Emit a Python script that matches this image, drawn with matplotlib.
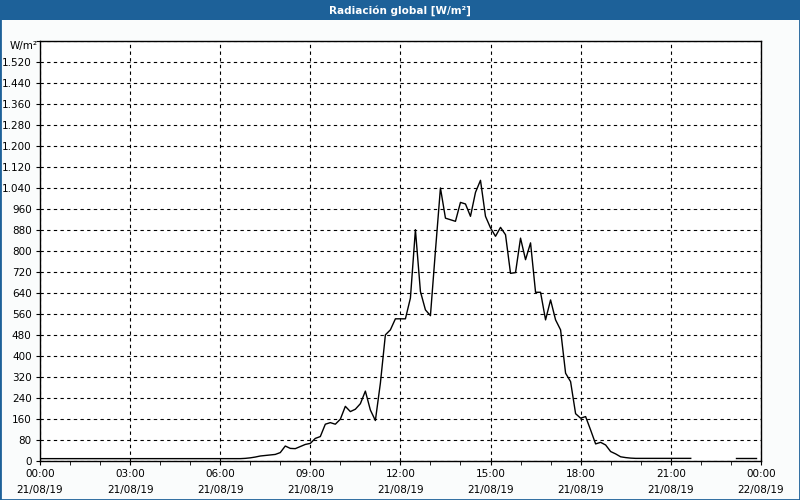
import pandas as pd
import matplotlib.pyplot as plt
import matplotlib.dates as mdates
from matplotlib.ticker import MultipleLocator, FuncFormatter
from matplotlib.patches import Rectangle

# 10-minute readings, W/m2
night_am = [9, 9, 9, 9, 9, 9, 9, 9, 9, 9, 9, 9, 9, 9,
            9, 9, 9, 9, 9, 9, 9, 9, 9, 9, 9, 9, 9, 9,
            9, 9, 9, 9, 9, 9, 9, 9, 9, 9, 9, 9, 9]          # 00:00 - 06:40
day = [10, 12, 15, 19, 21, 23, 25, 32, 57, 48, 47, 55, 63, 67,   # 06:50 - 09:00
       86, 93, 140, 146, 140, 159, 208, 188, 197, 218, 266,     # 09:10 - 10:50
       194, 154, 296, 480, 499, 541, 541, 541, 620, 880, 645,   # 11:00 - 12:40
       575, 553, 800, 1039, 924, 918, 912, 984, 978, 931, 1022, # 12:50 - 14:30
       1068, 931, 887, 855, 889, 861, 714, 717, 848, 766, 830,  # 14:40 - 16:20
       642, 642, 537, 613, 537, 499, 334, 302, 180, 163, 169,   # 16:30 - 18:10
       118, 65, 71, 61, 36, 27, 16, 13, 11]                     # 18:20 - 19:40
night_pm = [10, 10, 10, 10, 10, 10, 10, 10, 10, 10, 10, 10]     # 19:50 - 21:40
late = [10, 10, 10, 10, 10]                                     # 23:10 - 23:50

values1 = night_am + day + night_pm
times1 = pd.date_range('2019-08-21 00:00', periods=len(values1), freq='10min')
times2 = pd.date_range('2019-08-21 23:10', periods=len(late), freq='10min')

blue = '#1d6199'
fig = plt.figure(figsize=(8, 5), dpi=100, facecolor='#fafcfc')
fig.patches.append(Rectangle((0, 0.96), 1, 0.04, transform=fig.transFigure,
                             facecolor=blue, edgecolor='none'))
fig.patches.append(Rectangle((0, 0), 1, 1, transform=fig.transFigure,
                             facecolor='none', edgecolor=blue, linewidth=2))
fig.text(0.5, 0.979, 'Radiación global [W/m²]', color='white', fontsize=7.5,
         fontweight='bold', ha='center', va='center')

ax = fig.add_axes([0.05, 0.078, 0.901, 0.841])
ax.plot(times1, values1, color='black', linewidth=1)
ax.plot(times2, late, color='black', linewidth=1)

ax.set_xlim(pd.Timestamp('2019-08-21 00:00'), pd.Timestamp('2019-08-22 00:00'))
ax.set_ylim(0, 1600)
ax.xaxis.set_major_locator(mdates.HourLocator(byhour=range(0, 24, 3)))
ax.xaxis.set_minor_locator(mdates.HourLocator())
ax.xaxis.set_major_formatter(mdates.DateFormatter('%H:%M\n%d/%m/%y'))
ax.yaxis.set_major_locator(MultipleLocator(80))
ax.yaxis.set_major_formatter(FuncFormatter(
    lambda v, p: '' if v >= 1600 else f'{v:,.0f}'.replace(',', '.')))

ax.grid(True, color='black', linestyle=(0, (3, 3)), linewidth=0.8)
ax.tick_params(axis='both', labelsize=7.5, length=3, color='black', pad=3)
ax.tick_params(axis='x', which='minor', length=3)
for s in ax.spines.values():
    s.set_linewidth(1)
for lbl in ax.get_xticklabels():
    lbl.set_linespacing(1.7)

fig.text(0.047, 1 - 46 / 500, 'W/m²', fontsize=7.5, ha='right', va='center')

fig.savefig('out.png', dpi=100, facecolor=fig.get_facecolor())
